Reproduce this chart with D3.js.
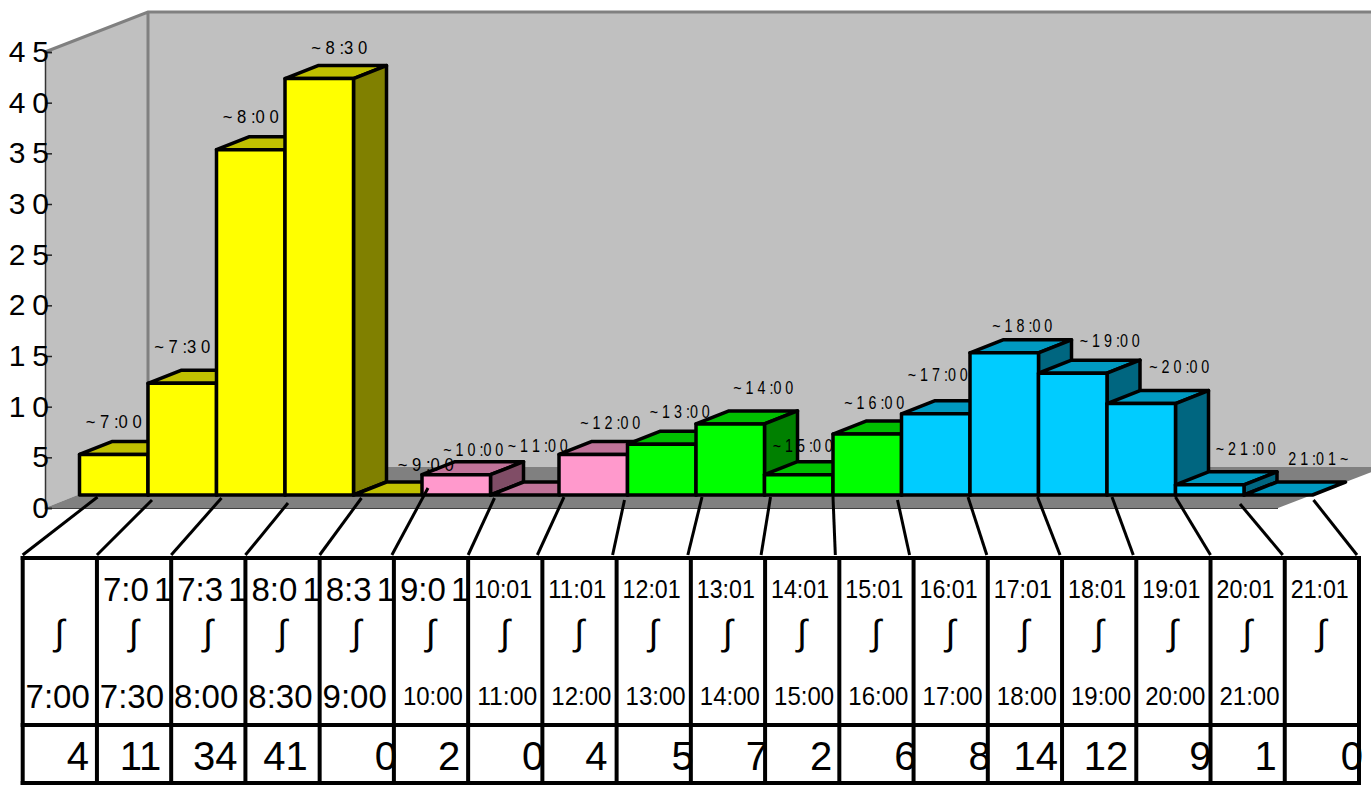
<!DOCTYPE html>
<html>
<head>
<meta charset="utf-8">
<script src="https://cdn.jsdelivr.net/npm/d3@7"></script>
<style>
    body { margin: 0; background: #fff; overflow: hidden; }
    svg { display: block; font-family: "Liberation Sans", Arial, sans-serif; }
</style>
</head>
<body>
<svg id="svg"></svg>
<script>
// values
const counts = [4, 11, 34, 41, 0, 2, 0, 4, 5, 7, 2, 6, 8, 14, 12, 9, 1, 0];
const barLabels = ["~ 7 :0 0", "~ 7 :3 0", "~ 8 :0 0", "~ 8 :3 0", "~ 9 :0 0", "~ 1 0 :0 0", "~ 1 1 :0 0", "~ 1 2 :0 0", "~ 1 3 :0 0",
    "~ 1 4 :0 0", "~ 1 5 :0 0", "~ 1 6 :0 0", "~ 1 7 :0 0", "~ 1 8 :0 0", "~ 1 9 :0 0", "~ 2 0 :0 0", "~ 2 1 :0 0", "2 1 :0 1 ~"];
const fromLabels = ["", "7:0 1", "7:3 1", "8:0 1", "8:3 1", "9:0 1", "10:01", "11:01", "12:01", "13:01", "14:01", "15:01", "16:01", "17:01", "18:01", "19:01", "20:01", "21:01"];
const toLabels = ["7:00", "7:30", "8:00", "8:30", "9:00", "10:00", "11:00", "12:00", "13:00", "14:00", "15:00", "16:00", "17:00", "18:00", "19:00", "20:00", "21:00", ""];
const yTicks = [0, 5, 10, 15, 20, 25, 30, 35, 40, 45];
const groups = ["am", "am", "am", "am", "am", "mid", "mid", "mid", "noon", "noon", "noon", "noon", "eve", "eve", "eve", "eve", "eve", "eve"];

const palette = {
    am: { front: "#FFFF00", top: "#C0C000", side: "#808000" },
    mid: { front: "#FF99CC", top: "#C07399", side: "#804D66" },
    noon: { front: "#00FF00", top: "#00C000", side: "#008000" },
    eve: { front: "#00CCFF", top: "#0099C0", side: "#006680" }
};

// hand placed offsets, the original's labels do not sit regularly
const labelDx = [0, 0, 0, 20, 38, 17, 13, 17, 18, 33, 4, 7, 2, 18, 37, 38, 36, 40];
const labelDy = [-33, -37, -33, -31, -31, -25, -50, -32, -33, -36, -29, -32, -39, -27, -33, -37, -36, -37];
const leaderDx = [18, 4, 5, 3, 8, 6, 4, 5, -3, 6, 6, 0, -4, -2, -1, 5, 0, -4, 1];
const leaderTopY = [497, 500, 498, 503, 498, 488, 498, 497, 500, 497, 497, 497, 500, 497, 497, 497, 497, 504, 500];
const leaderEndDx = [0, 0, 0, 0, 0, -2, 0, -5, -4, -3, -4, -4, -4, -1, -2, -3, 0, -2, -2];
const valueDx = [-8, -10, -8, -12, 3, -8, 2, -9, 3, 3, -7, 3, 3, -4, -8, 1, -8, 4];

const width = 1371;
const height = 785;
const depthX = 33;
const depthY = 13;
const barWidth = 68.5;

let svg = d3.select("#svg").attr("width", width).attr("height", height);

let xBar = d3.scaleLinear().domain([0, 18]).range([79.5, 1312.5]);
let yBar = d3.scaleLinear().domain([0, 45]).range([495, 38]);
let yAxisScale = d3.scaleLinear().domain([0, 45]).range([508, 52]);
let xCol = d3.scaleLinear().domain([0, 18]).range([22.7, 1359]);

const tableTop = 558;
const tableMid = 725;
const tableBottom = 783;

function poly(points) {
    return points.map(p => p.join(",")).join(" ");
}

function drawWalls() {
    let g = svg.append("g");
    g.append("polygon") // back wall
        .attr("points", poly([[148, 12], [width + 5, 12], [width + 5, 467], [148, 467]]))
        .attr("fill", "#C0C0C0");
    g.append("polygon") // left wall
        .attr("points", poly([[45, 52], [148, 12], [148, 467], [45, 508]]))
        .attr("fill", "#C0C0C0");
    g.append("polygon") // floor
        .attr("points", poly([[45, 508], [1278, 508], [1385, 467], [148, 467]]))
        .attr("fill", "#808080");
    g.append("path")
        .attr("d", "M45,52L148,12H" + (width + 5) + "M148,12V467")
        .attr("fill", "none")
        .attr("stroke", "#808080")
        .attr("stroke-width", 3);
    g.append("line")
        .attr("x1", 45).attr("x2", 1278).attr("y1", 508.5).attr("y2", 508.5)
        .attr("stroke", "#404040").attr("stroke-width", 1);
}

function drawYAxis() {
    let axis = svg.append("g")
        .attr("transform", "translate(45,0)")
        .call(d3.axisLeft(yAxisScale).tickValues(yTicks).tickSize(-7).tickPadding(-1).tickFormat(d => d));
    axis.select(".domain").attr("stroke", "#333").attr("stroke-width", 1.5);
    axis.selectAll(".tick line").attr("stroke", "#222").attr("stroke-width", 1.5);
    axis.selectAll(".tick text")
        .attr("font-family", "Liberation Sans")
        .attr("font-size", 30)
        .attr("letter-spacing", d => d >= 10 ? 7 : 0)
        .attr("fill", "#000")
        .attr("dx", d => d >= 10 ? 10 : 3);
}

function drawBars() {
    let bars = svg.append("g").selectAll("g").data(counts).join("g");

    bars.each(function (d, i) {
        let g = d3.select(this);
        let colors = palette[groups[i]];
        let x = xBar(i), y = yBar(d), base = yBar(0);

        g.append("polygon") // top face
            .attr("points", poly([[x, y], [x + barWidth, y], [x + barWidth + depthX, y - depthY], [x + depthX, y - depthY]]))
            .attr("fill", colors.top);

        if (d === 0) return;

        g.append("polygon") // side face
            .attr("points", poly([[x + barWidth, y], [x + barWidth + depthX, y - depthY], [x + barWidth + depthX, base - depthY], [x + barWidth, base]]))
            .attr("fill", colors.side);
        g.append("rect")
            .attr("x", x).attr("y", y)
            .attr("width", barWidth).attr("height", base - y)
            .attr("fill", colors.front);
    });

    bars.selectAll("polygon, rect")
        .attr("stroke", "#000")
        .attr("stroke-width", 3.5)
        .attr("stroke-linejoin", "round");

    // labels are squeezed sideways in the original
    svg.append("g").selectAll("text").data(barLabels).join("text")
        .attr("text-anchor", "middle")
        .attr("font-size", 18)
        .attr("fill", "#000")
        .text(d => d)
        .attr("transform", function (d, i) {
            let x = xBar(i) + barWidth / 2 + labelDx[i];
            let y = yBar(counts[i]) + labelDy[i] + 6.5;
            let target = i < 5 ? 56 : 60;
            return "translate(" + x + "," + y + ") scale(" + (target / this.getComputedTextLength()) + ",1)";
        });
}

function drawLeaders() {
    svg.append("g").selectAll("line").data(leaderDx).join("line")
        .attr("x1", (d, i) => xBar(i) + d)
        .attr("y1", (d, i) => leaderTopY[i])
        .attr("x2", (d, i) => xCol(i) + leaderEndDx[i])
        .attr("y2", tableTop - 3)
        .attr("stroke", "#000")
        .attr("stroke-width", 3);
}

function drawTable() {
    let g = svg.append("g");
    let columns = d3.range(19);

    g.selectAll(".col").data(columns).join("line")
        .attr("class", "col")
        .attr("x1", d => xCol(d)).attr("x2", d => xCol(d))
        .attr("y1", tableTop).attr("y2", tableBottom);
    g.selectAll(".row").data([tableTop, tableMid, tableBottom]).join("line")
        .attr("class", "row")
        .attr("x1", xCol(0)).attr("x2", xCol(18))
        .attr("y1", d => d).attr("y2", d => d);
    g.selectAll("line").attr("stroke", "#000").attr("stroke-width", 4).attr("stroke-linecap", "square");

    // the early times are set larger than the rest
    let fromText = g.selectAll(".from").data(fromLabels).join("text")
        .attr("class", "from")
        .attr("x", (d, i) => i < 6 ? xCol(i) + 6 : xCol(i) + 35)
        .attr("y", (d, i) => i < 6 ? 601 : 598)
        .attr("text-anchor", (d, i) => i < 6 ? "start" : "middle")
        .attr("font-size", (d, i) => i < 6 ? 33 : 26)
        .attr("word-spacing", -4)
        .text(d => d);
    fromText.filter((d, i) => i >= 6)
        .attr("textLength", 58)
        .attr("lengthAdjust", "spacingAndGlyphs");

    g.selectAll(".wave").data(columns.slice(0, 18)).join("text")
        .attr("class", "wave")
        .attr("x", d => xCol(d) + 37)
        .attr("y", 645)
        .attr("text-anchor", "middle")
        .attr("font-size", 36)
        .text("∫");

    let toText = g.selectAll(".to").data(toLabels).join("text")
        .attr("class", "to")
        .attr("x", (d, i) => i < 5 ? xCol(i) + 35 : xCol(i) + 39)
        .attr("y", (d, i) => i < 5 ? 708 : 705)
        .attr("text-anchor", "middle")
        .attr("font-size", (d, i) => i < 5 ? 33 : 26)
        .text(d => d);
    toText.filter((d, i) => i >= 5 && i < 17)
        .attr("textLength", 60)
        .attr("lengthAdjust", "spacingAndGlyphs");

    g.selectAll(".value").data(counts).join("text")
        .attr("class", "value")
        .attr("x", (d, i) => xCol(i + 1) + valueDx[i])
        .attr("y", 770)
        .attr("text-anchor", "end")
        .attr("font-size", 40)
        .text(d => d);
}

drawWalls();
drawYAxis();
drawBars();
drawLeaders();
drawTable();
</script>
</body>
</html>
